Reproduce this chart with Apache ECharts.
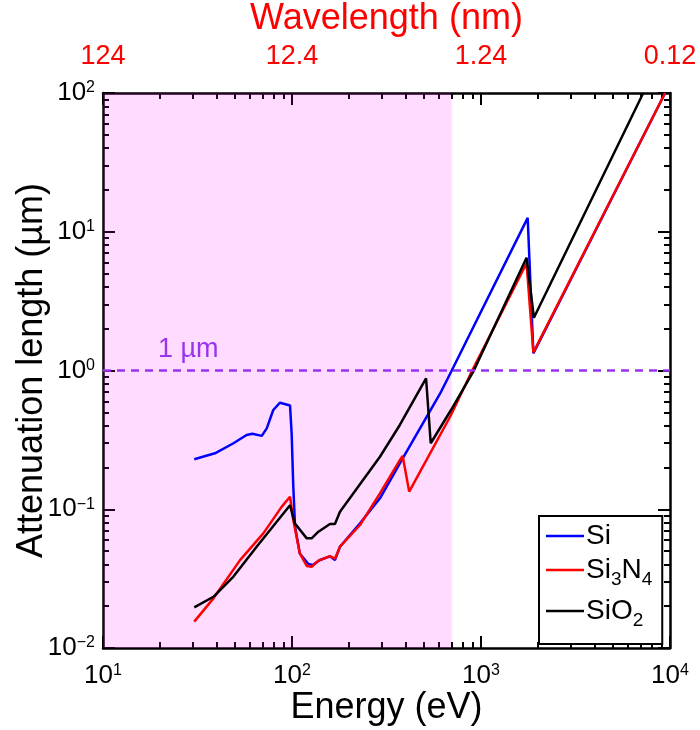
<!DOCTYPE html>
<html><head><meta charset="utf-8">
<script src="https://cdn.jsdelivr.net/npm/echarts@6/dist/echarts.min.js"></script>
<style>html,body{margin:0;padding:0;background:#fff}#c{width:700px;height:730px}</style>
</head><body><div id="c"></div>
<script>
// ---- data ----
const energySi = [30.4, 39.1, 49, 57.5, 61.7, 69.2, 73.5, 79.6, 86.4, 97.6, 99.6, 101.5, 103.8, 110, 122, 128.9, 140.6, 158.8, 168.7, 179.4, 229, 292, 372, 607, 694, 1766, 1893, 9420];
const lenSi    = [0.229, 0.253, 0.299, 0.343, 0.35, 0.338, 0.383, 0.519, 0.586, 0.56, 0.35, 0.15, 0.0748, 0.048, 0.0403, 0.0397, 0.0431, 0.0458, 0.0431, 0.0537, 0.0793, 0.12, 0.214, 0.68, 0.975, 12.6, 1.33, 100];

const energySi3N4 = [30.4, 38.4, 53.1, 70.5, 88.1, 97.6, 101.6, 110, 119.7, 127, 138, 158.8, 168.7, 179.4, 229, 292, 372, 385, 417, 694, 875, 1742, 1893, 9420];
const lenSi3N4    = [0.0155, 0.0228, 0.043, 0.067, 0.104, 0.123, 0.0837, 0.048, 0.039, 0.0385, 0.0426, 0.046, 0.044, 0.0537, 0.077, 0.130, 0.226, 0.242, 0.134, 0.478, 0.929, 5.93, 1.35, 100];

const energySiO2 = [30.4, 38.4, 49, 65, 97.6, 103.4, 119.7, 127, 138, 158.8, 168.7, 179.4, 292, 372, 512, 542, 694, 910, 1742, 1905, 7220];
const lenSiO2    = [0.0196, 0.0234, 0.0327, 0.0537, 0.107, 0.0793, 0.0617, 0.0617, 0.0689, 0.0783, 0.0783, 0.096, 0.239, 0.405, 0.879, 0.299, 0.519, 0.98, 6.5, 2.4, 100];

const refLength = [1];            // 1 µm reference line
const shadedEnergy = [10, 700];   // shaded energy band (eV)

const energyTicks = [10, 100, 1000, 10000];
const wavelengthLabels = ['124', '12.4', '1.24', '0.12'];

const seriesNames = ['Si', 'Si3N4', 'SiO2'];
const seriesColors = ['#0000ff', '#ff0000', '#000000'];

const FONT = '"Liberation Sans", Arial, sans-serif';
function zip(a, b) { return a.map((v, i) => [v, b[i]]); }
function powLabel(v) {
  const e = Math.round(Math.log10(v));
  return '{b|10}{s|' + (e < 0 ? '\u2212' + (-e) : e) + '}';
}
const powRich = {
  b: { fontSize: 26, fontFamily: FONT, color: '#000', lineHeight: 26, verticalAlign: 'bottom' },
  s: { fontSize: 16, fontFamily: FONT, color: '#000', lineHeight: 16, verticalAlign: 'top', padding: [0, 0, 14, 0] }
};

const axisLineStyle = { color: '#000', width: 2.5 };
const tickStyle = { show: true, inside: true, length: 12, lineStyle: { color: '#000', width: 2 } };
const minorStyle = { show: true, splitNumber: 9, length: 6, lineStyle: { color: '#000', width: 2 } };
const common = {
  type: 'log', logBase: 10, nameMoveOverlap: false,
  axisLine: { lineStyle: axisLineStyle }, axisTick: tickStyle, minorTick: minorStyle,
  splitLine: { show: false }, minorSplitLine: { show: false }
};

const chart = echarts.init(document.getElementById('c'));
const option = {
  animation: false,
  backgroundColor: '#fff',
  grid: { left: 103, right: 30, top: 93, bottom: 82, containLabel: false, outerBoundsMode: 'none' },
  xAxis: [
    Object.assign({}, common, { min: 10, max: 10000, position: 'bottom',
      name: 'Energy (eV)', nameLocation: 'middle', nameGap: 42,
      nameTextStyle: { fontSize: 36, fontFamily: FONT, color: '#000' },
      axisLabel: { margin: 15, formatter: powLabel, rich: powRich } }),
    Object.assign({}, common, { min: 10, max: 10000, position: 'top',
      name: 'Wavelength (nm)', nameLocation: 'middle', nameGap: 56,
      nameTextStyle: { fontSize: 36, fontFamily: FONT, color: '#ff0000' },
      axisLabel: { margin: 23, color: '#ff0000', fontSize: 27, fontFamily: FONT,
        formatter: v => { const i = energyTicks.findIndex(t => Math.abs(t - v) / t < 1e-6); return i >= 0 ? wavelengthLabels[i] : ''; } } })
  ],
  yAxis: [
    Object.assign({}, common, { min: 0.01, max: 100, position: 'left',
      name: 'Attenuation length (\u00b5m)', nameLocation: 'middle', nameGap: 53,
      nameTextStyle: { fontSize: 36, fontFamily: FONT, color: '#000' },
      axisLabel: { margin: 8, formatter: powLabel, rich: powRich } }),
    Object.assign({}, common, { min: 0.01, max: 100, position: 'right',
      axisLabel: { show: false } })
  ],
  legend: {
    data: seriesNames, orient: 'vertical', left: 539, top: 516,
    backgroundColor: '#fff', borderColor: '#000', borderWidth: 2, borderRadius: 0,
    padding: [6, 10, 12, 7], itemGap: 6, itemWidth: 38, itemHeight: 2.5, icon: 'rect',
    formatter: n => n === 'Si' ? '{t|Si}' : (n === 'Si3N4' ? '{t|Si}{u|3}{t|N}{u|4}' : '{t|SiO}{u|2}'),
    textStyle: { padding: [0, 0, 0, -3], rich: {
      t: { fontSize: 28, fontFamily: FONT, color: '#000', lineHeight: 42 },
      u: { fontSize: 19, fontFamily: FONT, color: '#000', lineHeight: 19, verticalAlign: 'bottom', padding: [0, 0, 2, 0] }
    } }
  },
  series: [
    { name: 'Si', type: 'line', data: zip(energySi, lenSi), symbol: 'none', z: 2,
      lineStyle: { color: seriesColors[0], width: 2.5 }, itemStyle: { color: seriesColors[0] } },
    { name: 'Si3N4', type: 'line', data: zip(energySi3N4, lenSi3N4), symbol: 'none', z: 2,
      lineStyle: { color: seriesColors[1], width: 2.5 }, itemStyle: { color: seriesColors[1] } },
    { name: 'SiO2', type: 'line', data: zip(energySiO2, lenSiO2), symbol: 'none', z: 2,
      lineStyle: { color: seriesColors[2], width: 2.5 }, itemStyle: { color: seriesColors[2] } },
    { name: 'shade', type: 'line', data: [], z: 3, silent: true,
      markArea: { silent: true, itemStyle: { color: 'rgba(255,0,255,0.14)' },
        data: [[{ xAxis: shadedEnergy[0] }, { xAxis: shadedEnergy[1] }]] } },
    { name: 'ref', type: 'line', data: [], z: 4, silent: true,
      markLine: { silent: true, symbol: ['none', 'none'],
        lineStyle: { color: '#9933ee', width: 2.5, type: [8, 6] },
        label: { show: true, position: 'insideStartTop', formatter: '1 \u00b5m', distance: [55, 7],
          color: '#9933ee', fontSize: 27, fontFamily: FONT },
        data: [{ yAxis: refLength[0] }] } }
  ]
};
chart.setOption(option);
</script></body></html>
